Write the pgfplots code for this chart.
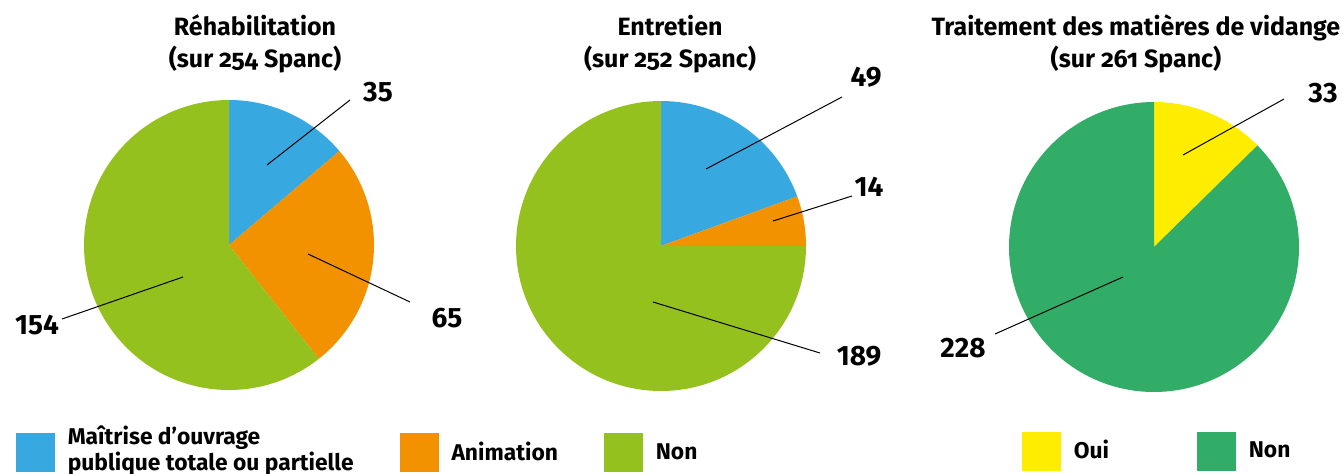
\documentclass[border=0pt]{standalone}
\usepackage{fontspec}
\setmainfont{Fira Sans}
\newfontfamily\titlefont{Fira Sans}[Numbers=OldStyle]
\usepackage{pgfplots}
\usepackage{pgfplotstable}
\pgfplotsset{compat=1.18}

\definecolor{cblue}{RGB}{56,169,224}
\definecolor{corange}{RGB}{243,146,0}
\definecolor{cgreen}{RGB}{149,193,31}
\definecolor{cyellow}{RGB}{255,237,0}
\definecolor{cdgreen}{RGB}{49,173,104}

% one table per pie, slices clockwise from 12 o'clock
\pgfplotstableread{
part value
mop 35
anim 65
non 154
}\rehab
\pgfplotstableread{
part value
mop 49
anim 14
non 189
}\entretien
\pgfplotstableread{
part value
oui 33
non 228
}\vidange

\newcommand\getval[3]{\pgfplotstablegetelem{#2}{value}\of#1\global\let#3\pgfplotsretval}
\getval\rehab{0}\rA \getval\rehab{1}\rB \getval\rehab{2}\rC
\getval\entretien{0}\eA \getval\entretien{1}\eB \getval\entretien{2}\eC
\getval\vidange{0}\vA \getval\vidange{1}\vB

\pgfmathsetmacro\rT{\rA+\rB+\rC}
\pgfmathsetmacro\rAngA{90-360*(\rA/\rT)}
\pgfmathsetmacro\rAngB{\rAngA-360*(\rB/\rT)}
\pgfmathsetmacro\eT{\eA+\eB+\eC}
\pgfmathsetmacro\eAngA{90-360*(\eA/\eT)}
\pgfmathsetmacro\eAngB{\eAngA-360*(\eB/\eT)}
\pgfmathsetmacro\vT{\vA+\vB}
\pgfmathsetmacro\vAngA{90-360*(\vA/\vT)}

\def\R{72.5pt}
\pgfplotsset{pie/.style={hide axis, x=0.5pt, y=0.5pt,
  xmin=-150, xmax=150, ymin=-150, ymax=150, anchor=center, clip=false}}
\newcommand\valfont{\bfseries\fontsize{14}{16}\selectfont}
\newcommand\legfont{\bfseries\fontsize{11.4}{12}\selectfont}

\begin{document}
\begin{tikzpicture}[x=0.5pt,y=0.5pt]
\useasboundingbox (0,0) rectangle (1344,473);
\clip (0,0) rectangle (1344,473);

% Rehabilitation
\begin{axis}[pie, at={(229,228)},
  legend columns=3, legend cell align=left,
  legend image code/.code={\fill[#1] (0pt,-9.5pt) rectangle (19pt,9.5pt);},
  legend style={at={(axis cs:-213,-204)}, anchor=west, draw=none, fill=none,
    inner sep=0pt, outer sep=0pt, font=\legfont,
    nodes={inner sep=0pt, anchor=west},
    /tikz/every odd column/.append style={column sep=6.5pt},
    /tikz/every even column/.append style={column sep=23pt}}]
\addplot[draw=none, forget plot] coordinates {(0,0)};
\fill[cblue] (axis cs:0,0) -- ++(90:\R) arc[start angle=90, end angle=\rAngA, radius=\R] -- cycle;
\fill[corange] (axis cs:0,0) -- ++(\rAngA:\R) arc[start angle=\rAngA, end angle=\rAngB, radius=\R] -- cycle;
\fill[cgreen] (axis cs:0,0) -- ++(\rAngB:\R) arc[start angle=\rAngB, end angle=-270, radius=\R] -- cycle;
\addlegendimage{cblue}
\addlegendentry[yshift=5pt]{\begin{tabular}{@{}l@{}}Maîtrise d’ouvrage\\publique totale ou partielle\end{tabular}}
\addlegendimage{corange}
\addlegendentry{Animation}
\addlegendimage{cgreen}
\addlegendentry{Non}
\end{axis}

% Entretien
\begin{axis}[pie, at={(661,227)}]
\addplot[draw=none, forget plot] coordinates {(0,0)};
\fill[cblue] (axis cs:0,0) -- ++(90:\R) arc[start angle=90, end angle=\eAngA, radius=\R] -- cycle;
\fill[corange] (axis cs:0,0) -- ++(\eAngA:\R) arc[start angle=\eAngA, end angle=\eAngB, radius=\R] -- cycle;
\fill[cgreen] (axis cs:0,0) -- ++(\eAngB:\R) arc[start angle=\eAngB, end angle=-270, radius=\R] -- cycle;
\end{axis}

% Traitement des matieres de vidange
\begin{axis}[pie, at={(1154,226)},
  legend columns=2, legend cell align=left,
  legend image code/.code={\fill[#1] (0pt,-9.5pt) rectangle (19pt,9.5pt);},
  legend style={at={(axis cs:-132,-204)}, anchor=west, draw=none, fill=none,
    inner sep=0pt, outer sep=0pt, font=\legfont,
    nodes={inner sep=0pt, anchor=west},
    /tikz/every odd column/.append style={column sep=6.5pt},
    /tikz/every even column/.append style={column sep=44pt}}]
\addplot[draw=none, forget plot] coordinates {(0,0)};
\fill[cyellow] (axis cs:0,0) -- ++(90:\R) arc[start angle=90, end angle=\vAngA, radius=\R] -- cycle;
\fill[cdgreen] (axis cs:0,0) -- ++(\vAngA:\R) arc[start angle=\vAngA, end angle=-270, radius=\R] -- cycle;
\addlegendimage{cyellow}
\addlegendentry{Oui}
\addlegendimage{cdgreen}
\addlegendentry{Non}
\end{axis}

% titles
\begin{scope}[every node/.style={align=center, font=\titlefont\bfseries\fontsize{12.5}{16}\selectfont}]
\node at (255,429) {Réhabilitation\\(sur 254 Spanc)};
\node at (670,429) {Entretien\\(sur 252 Spanc)};
\node at (1136,429) {Traitement des matières de vidange\\(sur 261 Spanc)};
\end{scope}

% leader lines and values
\begin{scope}[line width=0.5pt]
\draw (267,308) -- (350,373); \node[font=\valfont] at (378,381) {\rA};
\draw (308,219) -- (410,171); \node[font=\valfont] at (447,155) {\rB};
\draw (183,196) -- (62,154);  \node[font=\valfont] at (37,148) {\rC};
\draw (706,304) -- (842,376); \node[font=\valfont] at (866,396) {\eA};
\draw (773,252) -- (852,277); \node[font=\valfont] at (869,286) {\eB};
\draw (653,171) -- (820,120); \node[font=\valfont] at (859,117) {\eC};
\draw (1183,318) -- (1284,374); \node[font=\valfont] at (1323,380) {\vA};
\draw (1123,196) -- (995,139); \node[font=\valfont] at (963,125) {\vB};
\end{scope}
\end{tikzpicture}
\end{document}
